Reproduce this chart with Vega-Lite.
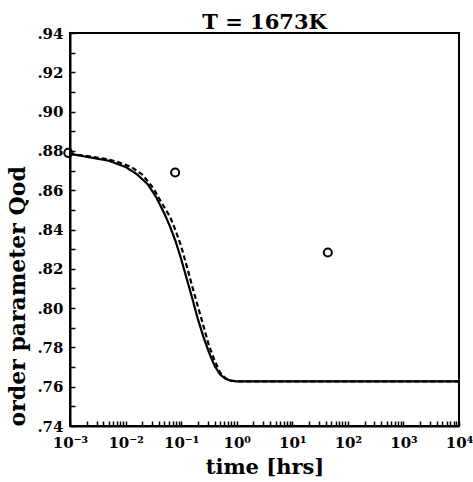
{
  "$schema": "https://vega.github.io/schema/vega-lite/v6.json",
  "width": 389,
  "height": 393,
  "autosize": {"type": "none"},
  "padding": {"left": 70, "top": 33, "right": 14, "bottom": 56},
  "background": "white",
  "title": {"text": "T = 1673K", "font": "DejaVu Serif", "fontSize": 21, "fontWeight": "bold", "color": "black", "offset": -7, "anchor": "middle"},
  "config": {
    "view": {"stroke": "black", "strokeWidth": 2},
    "axis": {
      "grid": false,
      "domainColor": "black",
      "domainWidth": 2,
      "tickColor": "black",
      "tickWidth": 1.5,
      "labelFont": "DejaVu Serif",
      "labelFontWeight": "bold",
      "labelFontSize": 15,
      "labelColor": "black",
      "labelOverlap": false,
      "labelFlush": false,
      "titleFont": "DejaVu Serif",
      "titleFontWeight": "bold",
      "titleFontSize": 21,
      "titleColor": "black"
    }
  },
  "datasets": {
    "curves": [
      {"series": "solid", "t": 0.001, "q": 0.8785},
      {"series": "solid", "t": 0.00251, "q": 0.8765},
      {"series": "solid", "t": 0.00501, "q": 0.8750},
      {"series": "solid", "t": 0.01, "q": 0.8718},
      {"series": "solid", "t": 0.01585, "q": 0.8682},
      {"series": "solid", "t": 0.02512, "q": 0.8630},
      {"series": "solid", "t": 0.03548, "q": 0.8565},
      {"series": "solid", "t": 0.05012, "q": 0.8480},
      {"series": "solid", "t": 0.0631, "q": 0.8415},
      {"series": "solid", "t": 0.07943, "q": 0.8340},
      {"series": "solid", "t": 0.1, "q": 0.8250},
      {"series": "solid", "t": 0.1259, "q": 0.8150},
      {"series": "solid", "t": 0.1585, "q": 0.8050},
      {"series": "solid", "t": 0.1995, "q": 0.7945},
      {"series": "solid", "t": 0.2512, "q": 0.7855},
      {"series": "solid", "t": 0.3162, "q": 0.7775},
      {"series": "solid", "t": 0.3981, "q": 0.7708},
      {"series": "solid", "t": 0.5012, "q": 0.7662},
      {"series": "solid", "t": 0.631, "q": 0.7640},
      {"series": "solid", "t": 0.7943, "q": 0.7630},
      {"series": "solid", "t": 1, "q": 0.7627},
      {"series": "solid", "t": 10000, "q": 0.7627},
      {"series": "dashed", "t": 0.001, "q": 0.8785},
      {"series": "dashed", "t": 0.00251, "q": 0.8770},
      {"series": "dashed", "t": 0.00501, "q": 0.8756},
      {"series": "dashed", "t": 0.00794, "q": 0.8740},
      {"series": "dashed", "t": 0.01259, "q": 0.8718},
      {"series": "dashed", "t": 0.01995, "q": 0.8680},
      {"series": "dashed", "t": 0.03162, "q": 0.8610},
      {"series": "dashed", "t": 0.04467, "q": 0.8535},
      {"series": "dashed", "t": 0.0631, "q": 0.8465},
      {"series": "dashed", "t": 0.07943, "q": 0.8395},
      {"series": "dashed", "t": 0.1, "q": 0.8315},
      {"series": "dashed", "t": 0.1259, "q": 0.8215},
      {"series": "dashed", "t": 0.1585, "q": 0.8110},
      {"series": "dashed", "t": 0.1995, "q": 0.8010},
      {"series": "dashed", "t": 0.2512, "q": 0.7910},
      {"series": "dashed", "t": 0.3162, "q": 0.7810},
      {"series": "dashed", "t": 0.3981, "q": 0.7735},
      {"series": "dashed", "t": 0.5012, "q": 0.7672},
      {"series": "dashed", "t": 0.631, "q": 0.7643},
      {"series": "dashed", "t": 0.7943, "q": 0.7631},
      {"series": "dashed", "t": 1, "q": 0.7627},
      {"series": "dashed", "t": 10000, "q": 0.7627}
    ],
    "points": [
      {"t": 0.00093, "q": 0.879},
      {"t": 0.078, "q": 0.869},
      {"t": 43.6, "q": 0.8283}
    ],
    "xticks": [
      {"t": 0.001}, {"t": 0.002}, {"t": 0.003}, {"t": 0.004}, {"t": 0.005}, {"t": 0.006}, {"t": 0.007}, {"t": 0.008}, {"t": 0.009},
      {"t": 0.01}, {"t": 0.02}, {"t": 0.03}, {"t": 0.04}, {"t": 0.05}, {"t": 0.06}, {"t": 0.07}, {"t": 0.08}, {"t": 0.09},
      {"t": 0.1}, {"t": 0.2}, {"t": 0.3}, {"t": 0.4}, {"t": 0.5}, {"t": 0.6}, {"t": 0.7}, {"t": 0.8}, {"t": 0.9},
      {"t": 1}, {"t": 2}, {"t": 3}, {"t": 4}, {"t": 5}, {"t": 6}, {"t": 7}, {"t": 8}, {"t": 9},
      {"t": 10}, {"t": 20}, {"t": 30}, {"t": 40}, {"t": 50}, {"t": 60}, {"t": 70}, {"t": 80}, {"t": 90},
      {"t": 100}, {"t": 200}, {"t": 300}, {"t": 400}, {"t": 500}, {"t": 600}, {"t": 700}, {"t": 800}, {"t": 900},
      {"t": 1000}, {"t": 2000}, {"t": 3000}, {"t": 4000}, {"t": 5000}, {"t": 6000}, {"t": 7000}, {"t": 8000}, {"t": 9000},
      {"t": 10000}
    ],
    "yticks": [
      {"q": 0.74}, {"q": 0.75}, {"q": 0.76}, {"q": 0.77}, {"q": 0.78}, {"q": 0.79}, {"q": 0.80}, {"q": 0.81}, {"q": 0.82}, {"q": 0.83},
      {"q": 0.84}, {"q": 0.85}, {"q": 0.86}, {"q": 0.87}, {"q": 0.88}, {"q": 0.89}, {"q": 0.90}, {"q": 0.91}, {"q": 0.92}, {"q": 0.93}, {"q": 0.94}
    ]
  },
  "encoding": {
    "x": {
      "field": "t", "type": "quantitative",
      "scale": {"type": "log", "domain": [0.001, 10000], "nice": false},
      "axis": {
        "orient": "bottom",
        "title": "time [hrs]",
        "titlePadding": 6,
        "tickSize": -5,
        "tickColor": "black",
        "tickWidth": 1.5,
        "labelPadding": 14,
        "values": [0.001,0.002,0.003,0.004,0.005,0.006,0.007,0.008,0.009,0.01,0.02,0.03,0.04,0.05,0.06,0.07,0.08,0.09,0.1,0.2,0.3,0.4,0.5,0.6,0.7,0.8,0.9,1,2,3,4,5,6,7,8,9,10,20,30,40,50,60,70,80,90,100,200,300,400,500,600,700,800,900,1000,2000,3000,4000,5000,6000,7000,8000,9000,10000],
        "labelExpr": "abs(log(datum.value)/LN10-round(log(datum.value)/LN10))>0.001 ? '' : round(log(datum.value)/LN10)==-3 ? '10⁻³' : round(log(datum.value)/LN10)==-2 ? '10⁻²' : round(log(datum.value)/LN10)==-1 ? '10⁻¹' : round(log(datum.value)/LN10)==0 ? '10⁰' : round(log(datum.value)/LN10)==1 ? '10¹' : round(log(datum.value)/LN10)==2 ? '10²' : round(log(datum.value)/LN10)==3 ? '10³' : '10⁴'"
      }
    },
    "y": {
      "field": "q", "type": "quantitative",
      "scale": {"domain": [0.74, 0.94], "nice": false, "zero": false},
      "axis": {
        "orient": "left",
        "title": "order parameter Qod",
        "titleAnchor": "start",
        "titleFontSize": 22,
        "titlePadding": 7,
        "tickSize": -5,
        "tickColor": "black",
        "tickWidth": 1.5,
        "labelPadding": 12,
        "values": [0.74,0.75,0.76,0.77,0.78,0.79,0.80,0.81,0.82,0.83,0.84,0.85,0.86,0.87,0.88,0.89,0.90,0.91,0.92,0.93,0.94],
        "labelExpr": "round(datum.value*100)%2==0 ? replace(format(datum.value,'.2f'),'0.','.') : ''"
      }
    }
  },
  "layer": [
    {
      "data": {"name": "curves"},
      "mark": {"type": "line", "color": "black", "strokeWidth": 2.2, "clip": true},
      "encoding": {
        "strokeDash": {
          "field": "series", "type": "nominal",
          "scale": {"domain": ["solid", "dashed"], "range": [[1, 0], [5, 3]]},
          "legend": null
        }
      }
    },
    {
      "data": {"name": "points"},
      "mark": {"type": "point", "filled": false, "color": "black", "strokeWidth": 2, "size": 65, "opacity": 1}
    },
    {
      "data": {"name": "xticks"},
      "mark": {"type": "tick", "orient": "vertical", "color": "black", "thickness": 1.5, "size": 10, "clip": true, "opacity": 1},
      "encoding": {
        "y": {
          "datum": 0.94, "type": "quantitative",
          "scale": {"domain": [0.74, 0.94], "nice": false, "zero": false},
          "axis": {
            "orient": "left",
            "title": "order parameter Qod",
            "titleAnchor": "start",
            "titleFontSize": 22,
            "titlePadding": 7,
            "tickSize": -5,
            "tickColor": "black",
            "tickWidth": 1.5,
            "labelPadding": 12,
            "values": [0.74,0.75,0.76,0.77,0.78,0.79,0.80,0.81,0.82,0.83,0.84,0.85,0.86,0.87,0.88,0.89,0.90,0.91,0.92,0.93,0.94],
            "labelExpr": "round(datum.value*100)%2==0 ? replace(format(datum.value,'.2f'),'0.','.') : ''"
          }
        }
      }
    },
    {
      "data": {"name": "yticks"},
      "mark": {"type": "tick", "orient": "horizontal", "color": "black", "thickness": 1.5, "size": 10, "clip": true, "opacity": 1},
      "encoding": {
        "x": {
          "datum": 10000, "type": "quantitative",
          "scale": {"type": "log", "domain": [0.001, 10000], "nice": false},
          "axis": {
            "orient": "bottom",
            "title": "time [hrs]",
            "titlePadding": 6,
            "tickSize": -5,
            "tickColor": "black",
            "tickWidth": 1.5,
            "labelPadding": 14,
            "values": [0.001,0.002,0.003,0.004,0.005,0.006,0.007,0.008,0.009,0.01,0.02,0.03,0.04,0.05,0.06,0.07,0.08,0.09,0.1,0.2,0.3,0.4,0.5,0.6,0.7,0.8,0.9,1,2,3,4,5,6,7,8,9,10,20,30,40,50,60,70,80,90,100,200,300,400,500,600,700,800,900,1000,2000,3000,4000,5000,6000,7000,8000,9000,10000],
            "labelExpr": "abs(log(datum.value)/LN10-round(log(datum.value)/LN10))>0.001 ? '' : round(log(datum.value)/LN10)==-3 ? '10⁻³' : round(log(datum.value)/LN10)==-2 ? '10⁻²' : round(log(datum.value)/LN10)==-1 ? '10⁻¹' : round(log(datum.value)/LN10)==0 ? '10⁰' : round(log(datum.value)/LN10)==1 ? '10¹' : round(log(datum.value)/LN10)==2 ? '10²' : round(log(datum.value)/LN10)==3 ? '10³' : '10⁴'"
          }
        }
      }
    }
  ]
}
